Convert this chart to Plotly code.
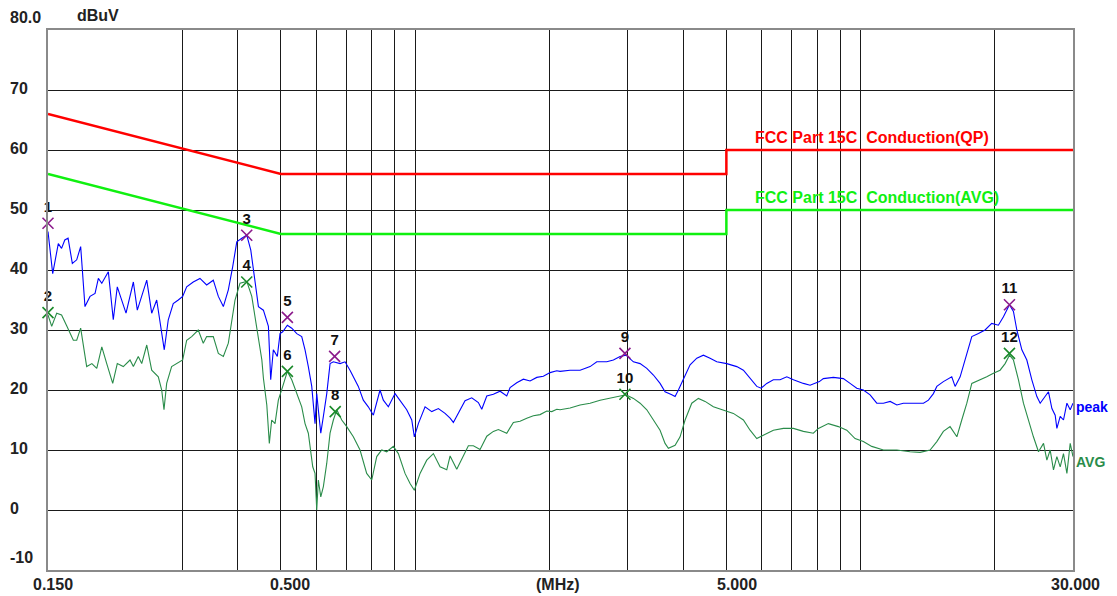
import numpy as np
import plotly.graph_objects as go

# ---------------- data ----------------
peak_freq = [0.150, 0.1537, 0.1582, 0.1609, 0.1636, 0.1664, 0.1701, 0.1740, 0.1776, 0.1816,
             0.1864, 0.1913, 0.1946, 0.1981, 0.2049, 0.2102, 0.2146, 0.2196, 0.2245, 0.2332,
             0.2380, 0.2499, 0.2564, 0.2631, 0.2685, 0.2736, 0.2793, 0.2866, 0.2942, 0.3009,
             0.3072, 0.3178, 0.3290, 0.3406, 0.3525, 0.3618, 0.3713, 0.3810, 0.3898, 0.3980,
             0.4084, 0.4191, 0.4279, 0.4376, 0.4451, 0.4567, 0.4687, 0.4743, 0.4808, 0.4908,
             0.4977, 0.5047, 0.5169, 0.5288, 0.5427, 0.5568, 0.5664, 0.5761, 0.5864, 0.5964,
             0.6017, 0.6067, 0.6144, 0.6227, 0.6337, 0.6446, 0.6557, 0.6788, 0.6965, 0.7146,
             0.7334, 0.7460, 0.7655, 0.7855, 0.8063, 0.8346, 0.8490, 0.8712, 0.9020, 0.9255,
             0.9580, 0.9833, 0.9966, 1.0175, 1.0533, 1.0905, 1.1283, 1.1680, 1.1988, 1.2192,
             1.2512, 1.2951, 1.3409, 1.3875, 1.4120, 1.4492, 1.4993, 1.5521, 1.6067, 1.6346,
             1.6920, 1.7508, 1.8126, 1.8764, 1.9413, 2.0102, 2.0808, 2.1165, 2.2290, 2.3475,
             2.472, 2.559, 2.695, 2.788, 2.886, 2.977, 3.092, 3.201, 3.314, 3.429,
             3.549, 3.642, 3.771, 3.836, 3.902, 4.004, 4.145, 4.291, 4.440, 4.596,
             4.758, 5.010, 5.277, 5.460, 5.652, 5.851, 5.983, 6.161, 6.375, 6.600,
             6.833, 7.070, 7.445, 7.707, 8.087, 8.254, 8.692, 9.154, 9.477, 9.810,
             10.15, 10.51, 10.88, 11.26, 11.66, 12.07, 12.48, 13.14, 13.85, 14.21,
             14.58, 14.84, 15.35, 16.03, 16.31, 16.74, 17.17, 17.78, 18.40, 19.04,
             19.71, 20.40, 20.94, 21.60, 22.05, 22.44, 23.03, 23.63, 24.25, 24.89,
             25.32, 25.76, 26.43, 26.90, 27.36, 27.60, 28.08, 28.56, 29.07, 29.57, 30.0]
peak_level = [46.4, 39.4, 44.4, 43.6, 45.0, 45.3, 41.1, 41.7, 43.9, 33.9,
              35.6, 36.1, 38.6, 37.8, 39.7, 31.7, 37.2, 35.0, 32.8, 38.0,
              33.3, 38.3, 32.8, 35.0, 30.6, 26.7, 31.7, 34.4, 35.0, 35.6,
              37.2, 38.0, 38.6, 37.5, 38.3, 35.6, 33.9, 36.7, 40.6, 44.7,
              45.3, 45.8, 43.3, 37.8, 33.9, 33.3, 30.6, 21.7, 26.7, 25.6,
              29.4, 29.7, 30.8, 30.3, 29.4, 28.9, 26.7, 23.9, 20.6, 14.4,
              19.4, 16.7, 12.8, 15.6, 19.4, 24.4, 24.7, 24.4, 24.7, 23.3,
              21.7, 20.6, 18.3, 17.2, 15.8, 20.0, 18.3, 17.2, 19.4, 18.3,
              16.7, 15.0, 12.2, 14.4, 17.2, 16.4, 16.9, 16.1, 15.3, 14.6,
              16.2, 18.2, 18.7, 17.9, 16.8, 19.0, 19.3, 19.8, 19.0, 20.4,
              21.2, 21.8, 21.5, 22.1, 22.3, 22.9, 23.2, 23.1, 23.3, 23.3,
              23.9, 24.7, 24.7, 25.0, 25.6, 25.8, 24.7, 24.4, 23.6, 22.5,
              21.1, 19.7, 19.2, 18.9, 20.0, 21.9, 24.2, 25.3, 25.8, 25.3,
              24.7, 24.4, 23.9, 23.3, 21.9, 20.6, 20.3, 21.1, 21.7, 21.7,
              22.2, 21.7, 21.1, 20.8, 21.4, 21.9, 22.1, 21.9, 21.1, 20.3,
              20.0, 19.2, 17.8, 17.8, 18.1, 17.5, 17.8, 17.8, 17.8, 18.3,
              19.4, 20.6, 21.4, 22.2, 20.6, 22.2, 25.0, 28.9, 29.4, 30.0,
              31.1, 30.8, 32.2, 34.2, 33.1, 30.0, 26.7, 25.0, 21.7, 18.9,
              17.8, 18.6, 19.7, 16.9, 15.8, 13.6, 15.6, 15.0, 17.8, 16.7, 17.8]

avg_freq = [0.150, 0.1529, 0.1569, 0.1609, 0.1650, 0.1710, 0.1740, 0.1776, 0.1832, 0.1882,
            0.1930, 0.1981, 0.2032, 0.2096, 0.2146, 0.2214, 0.2292, 0.2332, 0.2392, 0.2435,
            0.2499, 0.2564, 0.2653, 0.2700, 0.2732, 0.2770, 0.2842, 0.2917, 0.3009, 0.3072,
            0.3152, 0.3261, 0.3347, 0.3406, 0.3525, 0.3618, 0.3713, 0.3810, 0.3877, 0.3944,
            0.4047, 0.4191, 0.4301, 0.4415, 0.4531, 0.4567, 0.4648, 0.4709, 0.4767, 0.4850,
            0.4934, 0.5047, 0.5169, 0.5288, 0.5427, 0.5568, 0.5664, 0.5761, 0.5894, 0.5964,
            0.6017, 0.6067, 0.6144, 0.6227, 0.6337, 0.6446, 0.6557, 0.6674, 0.6848, 0.7026,
            0.7270, 0.7526, 0.7790, 0.7996, 0.8205, 0.8420, 0.8640, 0.8940, 0.9175, 0.9497,
            0.9747, 0.9966, 1.0264, 1.0626, 1.0996, 1.1382, 1.1784, 1.1988, 1.2408, 1.2732,
            1.3176, 1.3521, 1.3997, 1.4492, 1.4993, 1.5386, 1.6067, 1.6626, 1.7211, 1.7820,
            1.8438, 1.9088, 1.9761, 2.0279, 2.0808, 2.1165, 2.2290, 2.3475, 2.472, 2.603,
            2.741, 2.861, 2.977, 3.092, 3.201, 3.314, 3.429, 3.549, 3.642, 3.705,
            3.836, 3.936, 4.039, 4.181, 4.327, 4.479, 4.675, 4.923, 5.184, 5.460,
            5.652, 5.851, 6.054, 6.375, 6.714, 7.070, 7.445, 7.839, 8.045, 8.470,
            8.921, 9.316, 9.725, 10.15, 10.60, 11.26, 12.07, 12.92, 13.61, 14.33,
            14.84, 15.35, 15.89, 16.46, 16.88, 17.33, 17.78, 18.56, 19.21, 19.88,
            20.58, 21.12, 21.60, 22.05, 22.63, 23.22, 23.82, 24.45, 25.10, 25.76,
            26.21, 26.66, 27.12, 27.60, 28.08, 28.56, 29.07, 29.57, 30.0]
avg_level = [32.5, 30.6, 32.8, 32.5, 30.8, 28.3, 28.3, 30.3, 23.9, 24.4,
             23.6, 27.2, 24.4, 21.1, 24.4, 23.9, 25.0, 23.9, 25.6, 24.4,
             27.5, 23.3, 22.2, 20.0, 16.7, 21.1, 23.9, 24.4, 25.0, 28.3,
             28.9, 30.0, 27.8, 28.9, 28.9, 26.1, 25.6, 27.8, 31.1, 35.0,
             37.8, 38.1, 35.6, 30.6, 25.0, 22.0, 17.5, 11.1, 15.0, 14.4,
             18.3, 20.6, 23.1, 21.7, 19.4, 17.2, 14.4, 12.8, 7.2, 6.1,
             0.0, 5.0, 2.2, 3.9, 7.8, 12.8, 15.0, 16.7, 15.0, 13.9,
             12.2, 10.0, 6.1, 5.0, 8.9, 10.0, 9.7, 10.6, 9.4, 6.1,
             4.4, 3.3, 6.1, 8.3, 9.4, 7.2, 6.7, 9.0, 6.8, 8.4,
             10.7, 10.7, 10.1, 12.3, 13.1, 13.4, 12.8, 14.6, 14.8, 15.3,
             15.7, 15.9, 16.5, 16.4, 16.8, 16.7, 17.0, 17.5, 17.8, 18.3,
             18.6, 18.9, 19.2, 18.6, 17.8, 16.7, 15.0, 13.3, 11.1, 10.3,
             10.8, 12.2, 15.0, 17.8, 18.6, 18.1, 17.2, 16.7, 16.1, 15.0,
             13.3, 11.9, 12.5, 13.3, 13.6, 13.6, 13.1, 12.8, 13.6, 14.4,
             13.9, 13.3, 11.9, 11.4, 10.6, 10.0, 10.0, 9.7, 9.6, 10.0,
             11.4, 13.1, 13.9, 12.2, 15.0, 17.8, 21.1, 21.7, 22.2, 22.8,
             23.3, 24.4, 25.8, 25.0, 21.7, 17.8, 15.0, 12.2, 9.7, 11.1,
             8.3, 10.0, 6.7, 8.9, 7.2, 9.4, 6.1, 11.1, 8.9]

qp_limit_freq = [0.15, 0.5, 5.0, 5.0, 30.0]
qp_limit_level = [66, 56, 56, 60, 60]
avg_limit_freq = [0.15, 0.5, 5.0, 5.0, 30.0]
avg_limit_level = [56, 46, 46, 50, 50]

peak_mark_no = ['1', '3', '5', '7', '9', '11']
peak_mark_freq = [0.150, 0.419, 0.517, 0.660, 2.96, 21.6]
peak_mark_level = [47.8, 45.8, 32.1, 25.6, 26.1, 34.2]
avg_mark_no = ['2', '4', '6', '8', '10', '12']
avg_mark_freq = [0.150, 0.419, 0.517, 0.662, 2.96, 21.6]
avg_mark_level = [32.9, 38.0, 23.1, 16.4, 19.3, 26.1]

x_grid = [0.3, 0.4, 0.5, 0.6, 0.7, 0.8, 0.9, 1, 2, 3, 4, 5, 6, 7, 8, 9, 10, 20]
y_grid = [0, 10, 20, 30, 40, 50, 60, 70]
y_tick_vals = [80, 70, 60, 50, 40, 30, 20, 10, 0, -10]
y_tick_text = ['80.0', '70', '60', '50', '40', '30', '20', '10', '0', '-10']
x_tick_vals = [0.15, 0.5, 2.0, 5.0, 30.0]
x_tick_text = ['0.150', '0.500', '(MHz)', '5.000', '30.000']

# ---------------- figure ----------------
FONT = 'Liberation Sans, Arial, sans-serif'
fig = go.Figure()

fig.add_trace(go.Scatter(x=qp_limit_freq, y=qp_limit_level, mode='lines',
                         line=dict(color='#ff0000', width=2.5), hoverinfo='skip'))
fig.add_trace(go.Scatter(x=avg_limit_freq, y=avg_limit_level, mode='lines',
                         line=dict(color='#10f010', width=2.5), hoverinfo='skip'))
fig.add_trace(go.Scatter(x=avg_freq, y=avg_level, mode='lines',
                         line=dict(color='#2a8c4a', width=1.1)))
fig.add_trace(go.Scatter(x=peak_freq, y=peak_level, mode='lines',
                         line=dict(color='#0000ff', width=1.1)))

fig.add_trace(go.Scatter(x=peak_mark_freq, y=peak_mark_level, mode='markers+text',
                         text=['<b>%s</b>' % t for t in peak_mark_no], textposition='top center',
                         textfont=dict(family=FONT, size=15, color='#111'),
                         marker=dict(symbol='x-thin', size=11,
                                     line=dict(color='#8b1a8b', width=1.6)),
                         cliponaxis=False))
fig.add_trace(go.Scatter(x=avg_mark_freq, y=avg_mark_level, mode='markers+text',
                         text=['<b>%s</b>' % t for t in avg_mark_no], textposition='top center',
                         textfont=dict(family=FONT, size=15, color='#111'),
                         marker=dict(symbol='x-thin', size=11,
                                     line=dict(color='#1a8a2a', width=1.6)),
                         cliponaxis=False))

annotations = []
# y-axis labels
for v, t in zip(y_tick_vals, y_tick_text):
    shift = 13 if v in (80, -10) else 2
    annotations.append(dict(x=0, xref='paper', y=v, yref='y', text='<b>%s</b>' % t,
                            showarrow=False, xanchor='left', yanchor='middle',
                            xshift=-40, yshift=shift,
                            font=dict(family=FONT, size=16, color='#222')))
# x-axis labels
x_shifts = [5, 9, 9, 11, 2]
for v, t, s in zip(x_tick_vals, x_tick_text, x_shifts):
    annotations.append(dict(x=np.log10(v), xref='x', y=0, yref='paper', text='<b>%s</b>' % t,
                            showarrow=False, xanchor='center', yanchor='middle',
                            xshift=s, yshift=-14,
                            font=dict(family=FONT, size=16, color='#222')))
annotations.append(dict(x=0, xref='paper', y=80, yref='y', text='<b>dBuV</b>',
                        showarrow=False, xanchor='left', yanchor='middle', xshift=27, yshift=15,
                        font=dict(family=FONT, size=16, color='#222')))
annotations.append(dict(x=np.log10(5.74), xref='x', y=60, yref='y',
                        text='<b>FCC Part 15C  Conduction(QP)</b>', showarrow=False,
                        xanchor='left', yanchor='bottom', yshift=2,
                        font=dict(family=FONT, size=16, color='#ff0000')))
annotations.append(dict(x=np.log10(5.74), xref='x', y=50, yref='y',
                        text='<b>FCC Part 15C  Conduction(AVG)</b>', showarrow=False,
                        xanchor='left', yanchor='bottom', yshift=2,
                        font=dict(family=FONT, size=16, color='#10f010')))
annotations.append(dict(x=1, xref='paper', y=17.2, yref='y', text='<b>peak</b>',
                        showarrow=False, xanchor='left', yanchor='middle', xshift=1,
                        font=dict(family=FONT, size=14, color='#0000ff')))
annotations.append(dict(x=1, xref='paper', y=8.0, yref='y', text='<b>AVG</b>',
                        showarrow=False, xanchor='left', yanchor='middle', xshift=1,
                        font=dict(family=FONT, size=14, color='#2a8c4a')))

fig.update_layout(
    width=1109, height=588,
    margin=dict(l=40, r=44, t=22, b=26),
    paper_bgcolor='white', plot_bgcolor='white',
    showlegend=False,
    annotations=annotations,
    xaxis=dict(type='log', range=[np.log10(0.15), np.log10(30)],
               tickvals=x_grid, showticklabels=False, ticks='',
               showgrid=True, gridcolor='#1a1a1a', gridwidth=1,
               showline=True, linecolor='#8a8a8a', linewidth=2, mirror=True,
               zeroline=False),
    yaxis=dict(range=[-10, 80], tickvals=y_grid, showticklabels=False, ticks='',
               showgrid=True, gridcolor='#1a1a1a', gridwidth=1,
               showline=True, linecolor='#8a8a8a', linewidth=2, mirror=True,
               zeroline=False),
)

fig.write_html('out.html')
